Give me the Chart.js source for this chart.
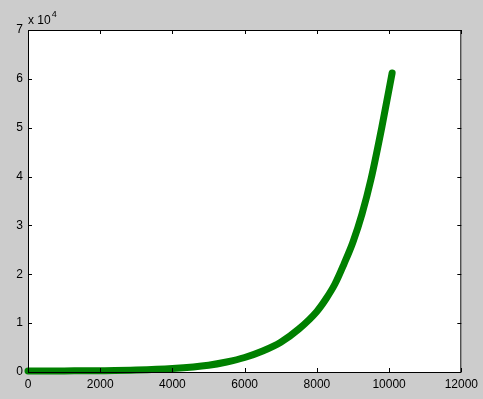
<!DOCTYPE html>
<html><head><meta charset="utf-8">
<style>html,body{margin:0;padding:0;background:#cccccc;}canvas{display:block}</style>
<script src="https://cdn.jsdelivr.net/npm/chart.js@4"></script>
</head><body>
<canvas id="c" width="483" height="399"></canvas>
<script>
// Data
const xValues = [0, 1000, 2000, 3000, 4000, 5000, 5500, 6000, 6500, 7000, 7500, 8000, 8250, 8500, 8750, 9000, 9250, 9500, 9800, 10084];
const yValues = [200, 230, 270, 390, 720, 1390, 2050, 2970, 4300, 6100, 8800, 12400, 14940, 18010, 22100, 26610, 32340, 39500, 50150, 61200];
const xTicks = [0, 2000, 4000, 6000, 8000, 10000, 12000];
const yTicks = [0, 10000, 20000, 30000, 40000, 50000, 60000, 70000];
const yTickLabels = ['0', '1', '2', '3', '4', '5', '6', '7'];
const exponentBase = 'x 10';
const exponentPower = '4';

const points = xValues.map((x, i) => ({x: x, y: yValues[i]}));
const FONT = 'Liberation Sans, Arial, sans-serif';

const boxPlugin = {
  id: 'box',
  beforeDraw(chart) {
    const {ctx, chartArea: a} = chart;
    ctx.save();
    ctx.fillStyle = '#ffffff';
    ctx.fillRect(a.left, a.top, a.right - a.left, a.bottom - a.top);
    ctx.restore();
  },
  afterDatasetsDraw(chart) {
    const {ctx, chartArea: a, scales} = chart;
    ctx.save();
    ctx.strokeStyle = '#000';
    ctx.lineWidth = 1;
    ctx.beginPath();
    ctx.rect(a.left + 0.5, a.top + 0.5, a.right - a.left - 1, a.bottom - a.top);
    ctx.stroke();
    const L = 4;
    ctx.beginPath();
    xTicks.forEach(v => {
      const px = Math.round(scales.x.getPixelForValue(v)) + 0.5;
      ctx.moveTo(px, a.bottom); ctx.lineTo(px, a.bottom - L);
      ctx.moveTo(px, a.top); ctx.lineTo(px, a.top + L);
    });
    yTicks.forEach(v => {
      const py = Math.round(scales.y.getPixelForValue(v)) + 0.5;
      ctx.moveTo(a.left, py); ctx.lineTo(a.left + L, py);
      ctx.moveTo(a.right, py); ctx.lineTo(a.right - L, py);
    });
    ctx.stroke();
    ctx.fillStyle = '#000';
    ctx.textBaseline = 'alphabetic';
    ctx.textAlign = 'left';
    ctx.font = '12px ' + FONT;
    ctx.fillText(exponentBase, a.left, a.top - 6);
    const w = ctx.measureText(exponentBase).width;
    ctx.font = '9px ' + FONT;
    ctx.fillText(exponentPower, a.left + w + 1, a.top - 13);
    ctx.restore();
  }
};

new Chart(document.getElementById('c'), {
  type: 'scatter',
  data: {
    datasets: [{
      data: points,
      showLine: true,
      borderColor: '#008000',
      backgroundColor: '#008000',
      borderWidth: 7,
      borderCapStyle: 'round',
      borderJoinStyle: 'round',
      pointRadius: 0,
      cubicInterpolationMode: 'monotone',
      clip: 10
    }]
  },
  options: {
    responsive: false,
    animation: false,
    devicePixelRatio: 1,
    layout: {padding: {top: 30, right: 21, left: 0, bottom: 0}},
    plugins: {legend: {display: false}, tooltip: {enabled: false}},
    scales: {
      x: {
        type: 'linear', min: 0, max: 12000,
        afterBuildTicks: s => { s.ticks = xTicks.map(v => ({value: v})); },
        afterFit: s => { s.height = 27; },
        grid: {display: false, drawTicks: false},
        border: {display: false},
        ticks: {color: '#000', font: {size: 12, family: FONT}, padding: 5, maxRotation: 0, autoSkip: false,
          callback: v => String(v)}
      },
      y: {
        type: 'linear', min: 0, max: 70000,
        afterBuildTicks: s => { s.ticks = yTicks.map(v => ({value: v})); },
        afterFit: s => { s.width = 28; },
        grid: {display: false, drawTicks: false},
        border: {display: false},
        ticks: {color: '#000', font: {size: 12, family: FONT}, padding: 5, autoSkip: false,
          callback: v => yTickLabels[yTicks.indexOf(v)]}
      }
    }
  },
  plugins: [boxPlugin]
});
</script>
</body></html>
